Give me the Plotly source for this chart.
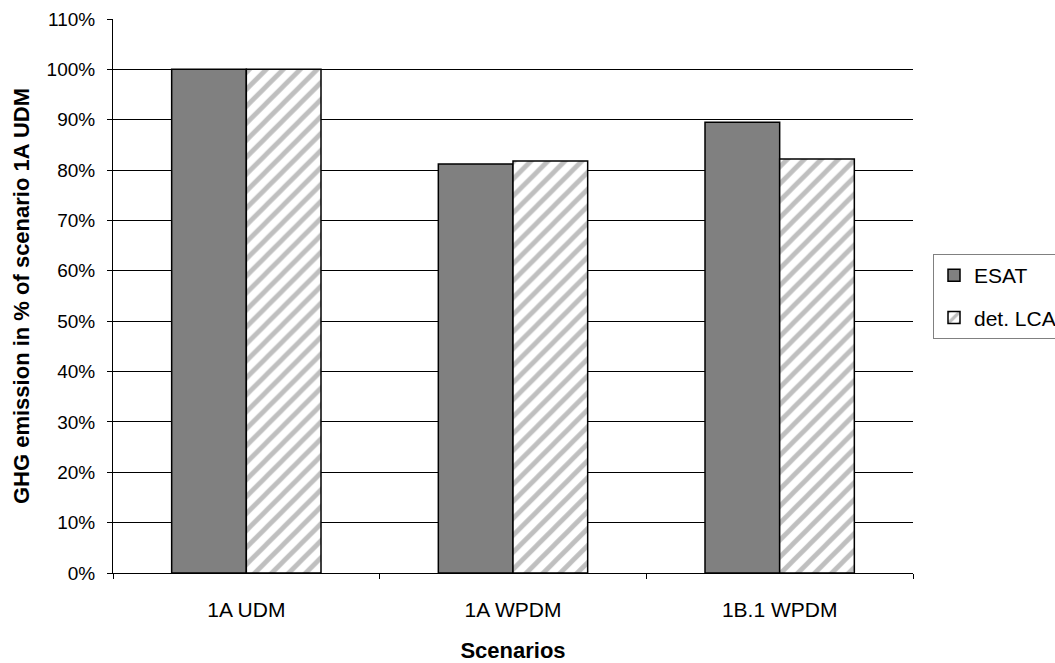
import plotly.graph_objects as go

categories = ["1A UDM", "1A WPDM", "1B.1 WPDM"]
esat = [100.0, 81.2, 89.5]
det_lca = [100.0, 81.8, 82.2]
y_ticks = [0, 10, 20, 30, 40, 50, 60, 70, 80, 90, 100, 110]
y_tick_labels = [f"{v}%" for v in y_ticks]

fig = go.Figure()
fig.add_trace(go.Bar(
    name="ESAT", x=categories, y=esat, legendgroup="a",
    marker=dict(color="#808080", line=dict(color="black", width=1.5)),
))
fig.add_trace(go.Bar(
    name="det. LCA", x=categories, y=det_lca, legendgroup="b",
    marker=dict(color="white", line=dict(color="black", width=1.5),
                pattern=dict(shape="/", fgcolor="#808080", bgcolor="white",
                             size=12, solidity=0.4, fillmode="overlay")),
))

font_family = "Liberation Sans, Arial, sans-serif"
fig.update_layout(
    width=1055, height=663,
    margin=dict(l=113, r=142, t=19, b=90, autoexpand=False),
    paper_bgcolor="white", plot_bgcolor="white",
    barmode="group", bargap=0.44, bargroupgap=0,
    font=dict(family=font_family, size=19, color="black"),
    showlegend=True,
    legend=dict(x=1.025, y=0.499, xanchor="left", yanchor="middle",
                bordercolor="#808080", borderwidth=1,
                font=dict(size=21, family=font_family), tracegroupgap=12),
    xaxis=dict(
        title=dict(text="<b>Scenarios</b>", font=dict(size=22), standoff=23),
        automargin=False,
        showline=True, linecolor="black", linewidth=1,
        ticks="outside", tickson="boundaries", ticklen=5, tickcolor="black",
        tickfont=dict(size=21), ticklabelstandoff=18,
        showgrid=False,
    ),
    yaxis=dict(
        title=dict(text="<b>GHG emission in % of scenario 1A UDM</b>", font=dict(size=22), standoff=10),
        automargin=False,
        range=[0, 110], tickvals=y_ticks, ticktext=y_tick_labels,
        showline=True, linecolor="black", linewidth=1,
        ticks="outside", ticklen=5, tickcolor="black",
        tickfont=dict(size=19), ticklabelstandoff=8,
        showgrid=True, gridcolor="black", gridwidth=1,
        zeroline=False,
    ),
)

fig.write_html("out.html", config={"displayModeBar": False},
               post_script="document.body.style.margin='0';")
